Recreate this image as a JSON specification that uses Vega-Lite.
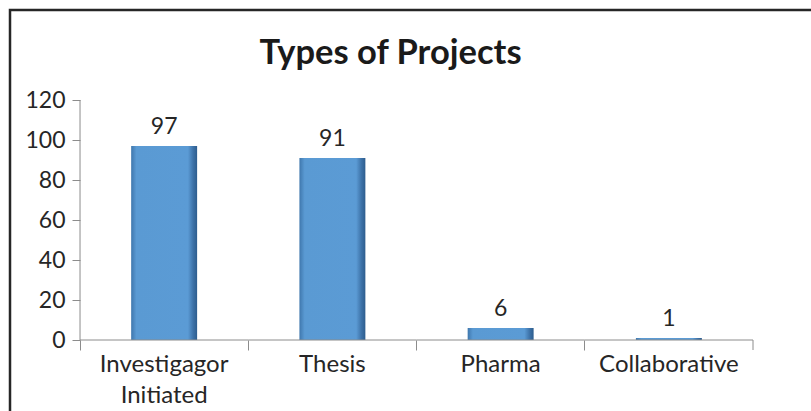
{
  "$schema": "https://vega.github.io/schema/vega-lite/v6.json",
  "width": 801,
  "height": 401,
  "autosize": {"type": "none"},
  "padding": {"left": 10, "top": 10, "right": 0, "bottom": 0},
  "background": "white",
  "config": {
    "view": {"stroke": "#262626", "strokeWidth": 2.5, "strokeDash": [801, 1202, 401]},
    "font": "Lato"
  },
  "title": {
    "text": "Types of Projects",
    "font": "Lato",
    "fontSize": 34.5,
    "fontWeight": "bold",
    "color": "#1a1a1a",
    "anchor": "middle",
    "frame": "group",
    "offset": -61,
    "dx": -20
  },
  "data": {
    "values": [
      {"cat": "Investigagor Initiated", "value": 97},
      {"cat": "Thesis", "value": 91},
      {"cat": "Pharma", "value": 6},
      {"cat": "Collaborative", "value": 1}
    ]
  },
  "layer": [
    {
      "mark": {
        "type": "bar",
        "width": {"band": 0.392},
        "fill": {
          "gradient": "linear",
          "x1": 0, "x2": 1, "y1": 0, "y2": 0,
          "stops": [
            {"offset": 0, "color": "#3f77ad"},
            {"offset": 0.08, "color": "#5a9ad3"},
            {"offset": 0.86, "color": "#5b9bd5"},
            {"offset": 0.94, "color": "#3d72a8"},
            {"offset": 1, "color": "#2d5d8e"}
          ]
        }
      },
      "encoding": {
        "x": {
          "field": "cat",
          "type": "nominal",
          "sort": null,
          "scale": {
            "domain": ["Investigagor Initiated", "Thesis", "Pharma", "Collaborative"],
            "paddingInner": 0,
            "paddingOuter": 0.3804,
            "align": 0.547
          },
          "axis": {
            "title": null,
            "domain": false,
            "grid": false,
            "bandPosition": 0,
            "tickSize": 10,
            "tickColor": "#8c8c8c",
            "tickWidth": 1,
            "labelAngle": 0,
            "labelFont": "Lato",
            "labelFontSize": 24,
            "labelColor": "#262626",
            "labelPadding": 2,
            "labelBaseline": "top",
            "labelLineHeight": 31,
            "labelLimit": 0,
            "labelExpr": "split(datum.label, ' ')",
            "offset": -71
          }
        },
        "y": {
          "field": "value",
          "type": "quantitative",
          "scale": {"domain": [-35.5, 165], "nice": false, "zero": false},
          "axis": {
            "title": null,
            "domain": false,
            "grid": false,
            "values": [0, 20, 40, 60, 80, 100, 120],
            "tickSize": 8,
            "tickColor": "#8c8c8c",
            "labelFont": "Lato",
            "labelFontSize": 23,
            "labelColor": "#262626",
            "labelPadding": 7,
            "labelBaseline": "middle",
            "offset": -70
          }
        },
        "y2": {"datum": 0}
      }
    },
    {
      "mark": {"type": "text", "dy": -7, "baseline": "bottom", "fontSize": 23, "font": "Lato", "color": "#262626"},
      "encoding": {
        "x": {"field": "cat", "type": "nominal", "sort": null},
        "y": {"field": "value", "type": "quantitative"},
        "text": {"field": "value", "type": "quantitative"}
      }
    },
    {
      "mark": {"type": "rule", "color": "#8c8c8c", "strokeWidth": 1},
      "encoding": {
        "x": {"field": "cat", "type": "nominal", "sort": null, "bandPosition": 0},
        "x2": {"field": "cat", "bandPosition": 1},
        "y": {"datum": 0}
      }
    },
    {
      "transform": [{"filter": "datum.cat == 'Investigagor Initiated'"}],
      "mark": {"type": "rule", "color": "#8c8c8c", "strokeWidth": 1},
      "encoding": {
        "x": {"field": "cat", "type": "nominal", "sort": null, "bandPosition": 0},
        "y": {"datum": 0},
        "y2": {"datum": 120}
      }
    },
    {
      "transform": [{"filter": "datum.cat == 'Collaborative'"}],
      "mark": {"type": "rule", "color": "#8c8c8c", "strokeWidth": 1},
      "encoding": {
        "x": {"field": "cat", "type": "nominal", "sort": null, "bandPosition": 1},
        "y": {"datum": 0},
        "y2": {"datum": -5}
      }
    }
  ]
}
